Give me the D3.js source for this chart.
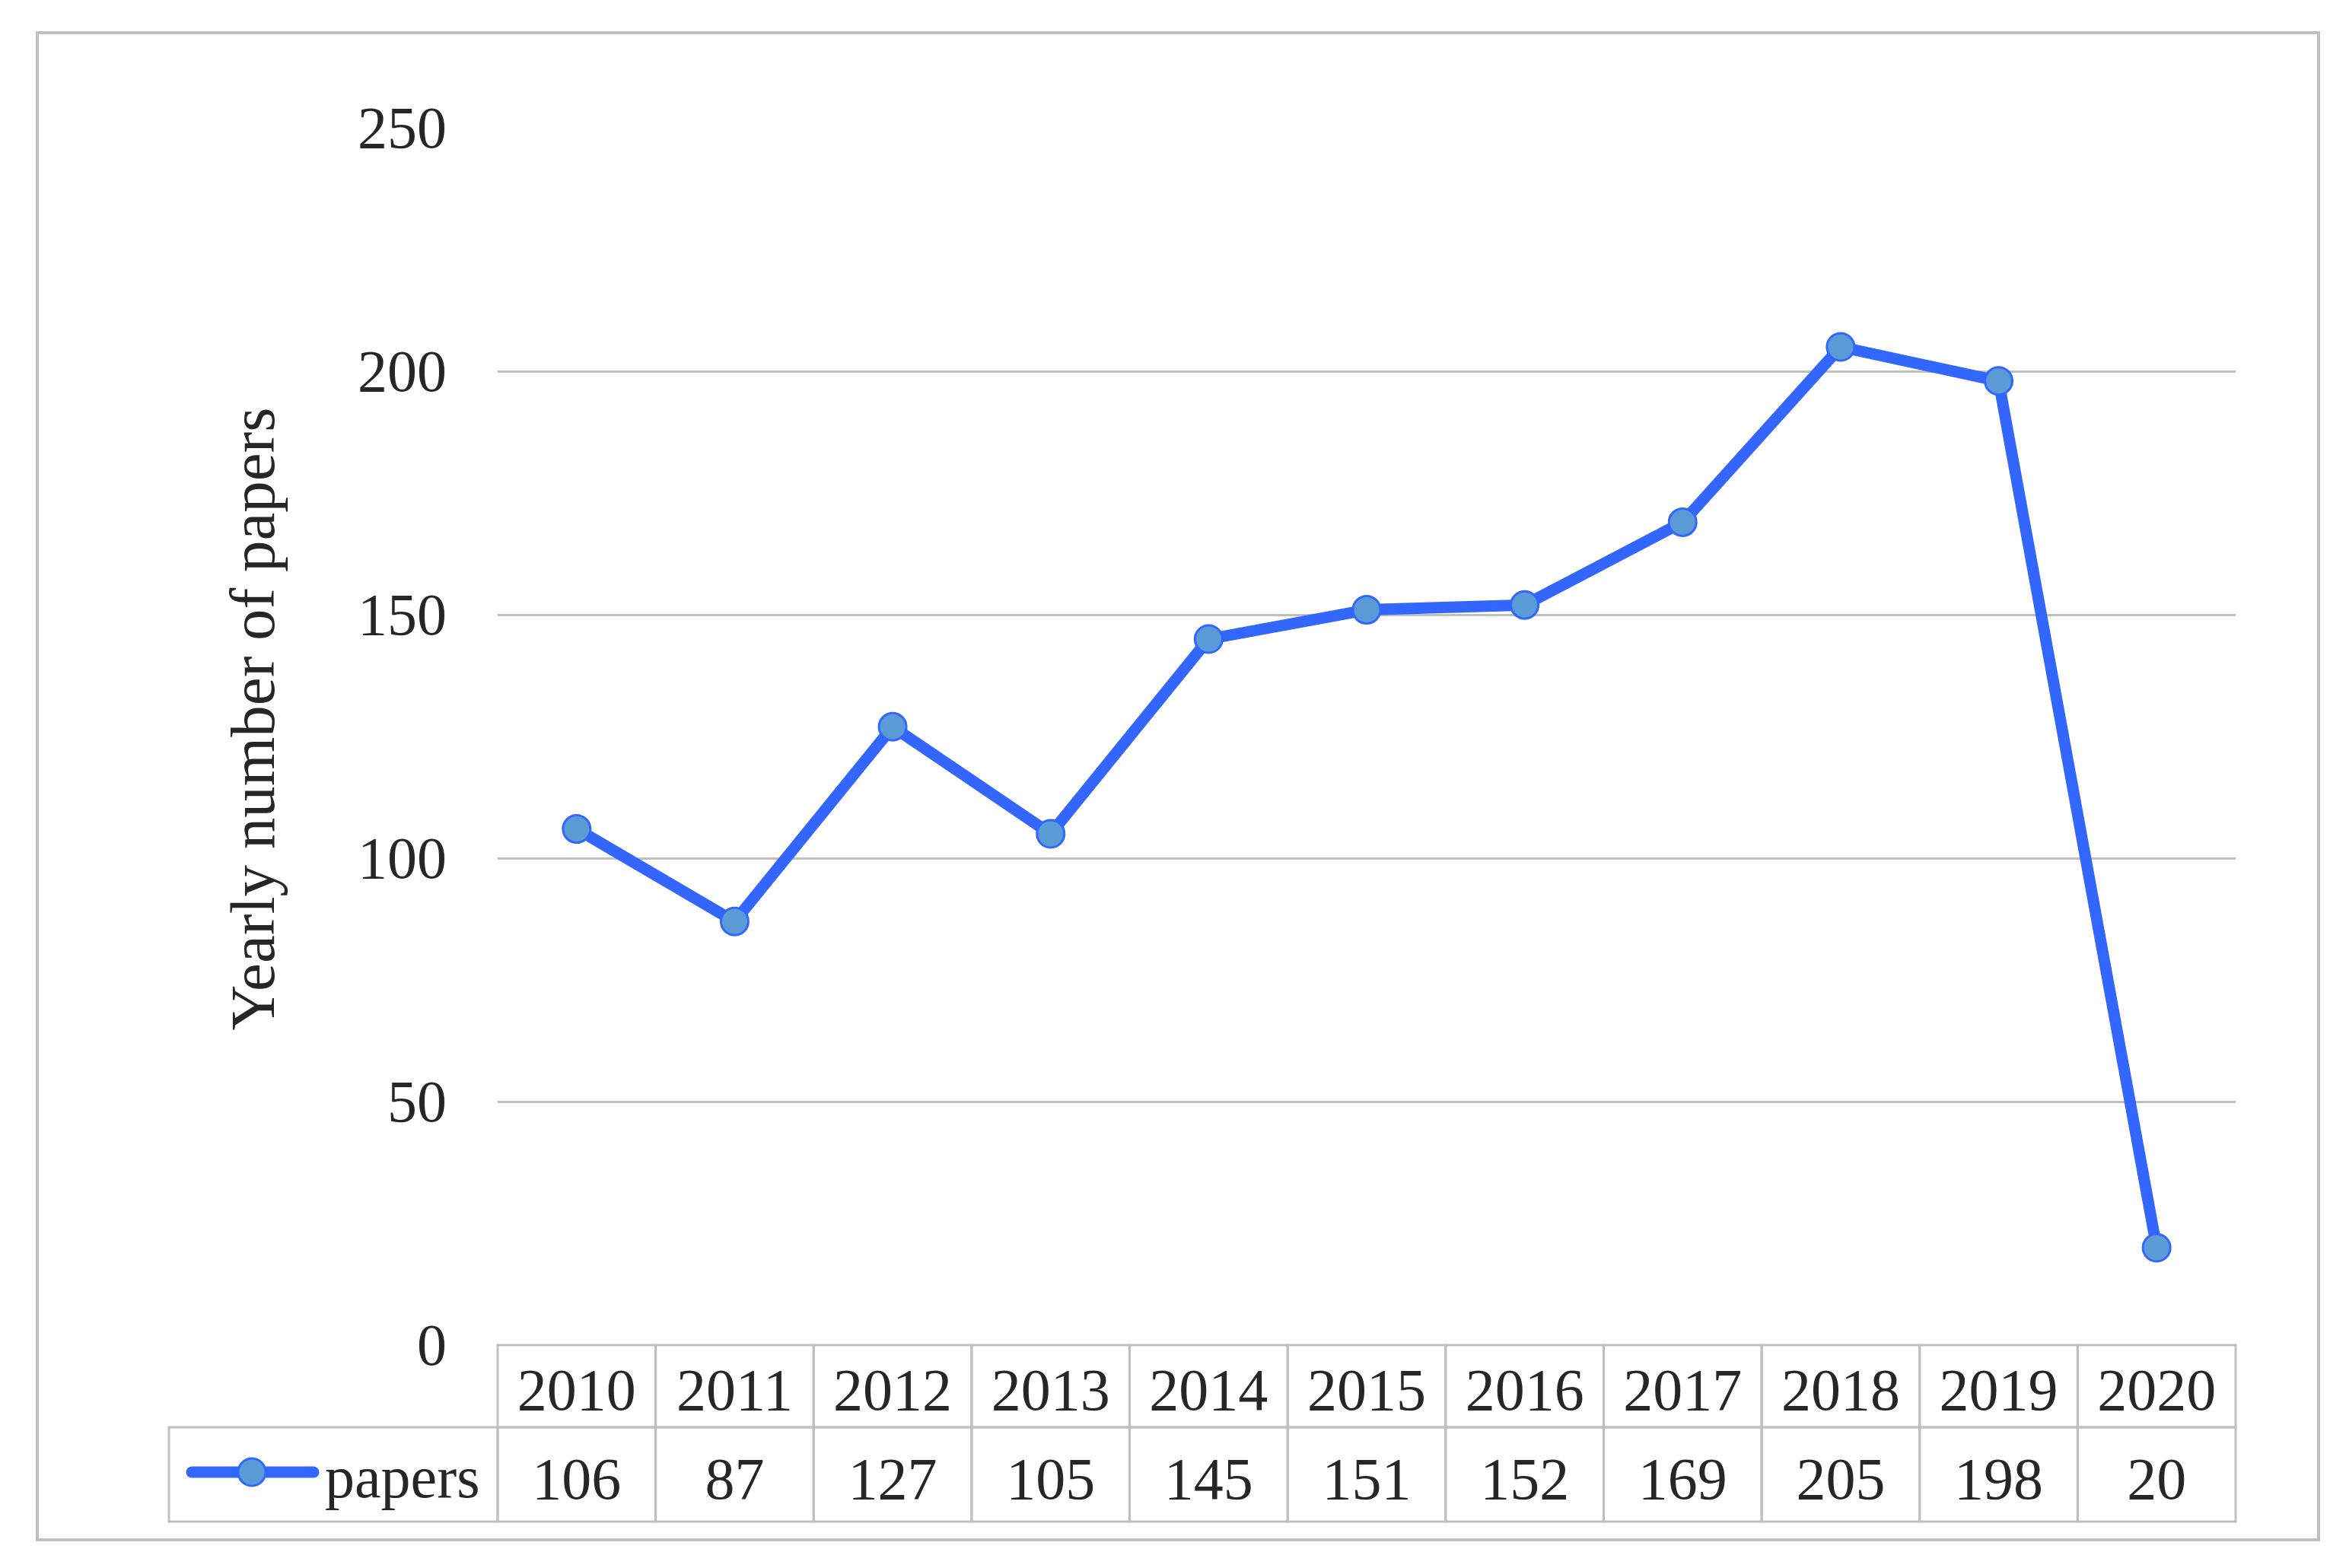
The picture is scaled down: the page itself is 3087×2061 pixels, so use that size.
<!DOCTYPE html>
<html>
<head>
<meta charset="utf-8">
<script src="https://cdn.jsdelivr.net/npm/d3@7"></script>
<style>
  html, body { margin: 0; padding: 0; background: #ffffff; }
  svg { display: block; }
  text { font-family: "Liberation Serif", "Times New Roman", serif; fill: #262626; }
</style>
</head>
<body>
<svg id="chart" width="3087" height="2061"></svg>
<script>
// ---- data ----
const years = ["2010","2011","2012","2013","2014","2015","2016","2017","2018","2019","2020"];
const papers = [106, 87, 127, 105, 145, 151, 152, 169, 205, 198, 20];
const seriesName = "papers";
const yTicks = [0, 50, 100, 150, 200, 250];
const yTitle = "Yearly number of papers";

// ---- layout ----
const W = 3087, H = 2061;
const plotLeft = 654, plotRight = 2938, plotTop = 168, plotBottom = 1768;
const row1Bottom = 1876, row2Bottom = 2000, legendLeft = 222;
const gridColor = "#bfbfbf";
const lineColor = "#3366ff";
const markerFill = "#5b9bd5";
const fontSize = 78;

const svg = d3.select("#chart");

// outer frame
svg.append("rect")
  .attr("x", 49).attr("y", 43)
  .attr("width", 3047 - 49).attr("height", 2024 - 43)
  .attr("fill", "#fff").attr("stroke", gridColor).attr("stroke-width", 4);

const x = d3.scaleBand().domain(years).range([plotLeft, plotRight]).padding(0);
const y = d3.scaleLinear().domain([0, 250]).range([plotBottom, plotTop]);

// y axis with gridlines
const yAxis = d3.axisLeft(y)
  .tickValues(yTicks)
  .tickSize(-(plotRight - plotLeft))
  .tickPadding(67)
  .tickFormat(d3.format("d"));

const gy = svg.append("g")
  .attr("transform", `translate(${plotLeft},0)`)
  .call(yAxis);
gy.select(".domain").remove();
gy.selectAll(".tick line")
  .attr("stroke", gridColor)
  .attr("stroke-width", 3)
  .attr("stroke-opacity", d => (d === 0 || d === 250) ? 0 : 1);
gy.selectAll(".tick text")
  .attr("font-size", fontSize)
  .attr("font-family", "Liberation Serif")
  .attr("fill", "#262626")
  .attr("dy", "0.33em");

// y title
svg.append("text")
  .attr("transform", `translate(360,945) rotate(-90)`)
  .attr("text-anchor", "middle")
  .attr("font-size", 83)
  .text(yTitle);

// data table
const table = svg.append("g");
// header row cells
table.selectAll("rect.hdr").data(years).join("rect")
  .attr("class", "hdr")
  .attr("x", d => x(d)).attr("y", plotBottom)
  .attr("width", x.bandwidth()).attr("height", row1Bottom - plotBottom)
  .attr("fill", "none").attr("stroke", gridColor).attr("stroke-width", 3);
// value row cells
table.selectAll("rect.val").data(years).join("rect")
  .attr("class", "val")
  .attr("x", d => x(d)).attr("y", row1Bottom)
  .attr("width", x.bandwidth()).attr("height", row2Bottom - row1Bottom)
  .attr("fill", "none").attr("stroke", gridColor).attr("stroke-width", 3);
// legend cell
table.append("rect")
  .attr("x", legendLeft).attr("y", row1Bottom)
  .attr("width", plotLeft - legendLeft).attr("height", row2Bottom - row1Bottom)
  .attr("fill", "none").attr("stroke", gridColor).attr("stroke-width", 3);

table.selectAll("text.yr").data(years).join("text")
  .attr("class", "yr")
  .attr("x", d => x(d) + x.bandwidth() / 2).attr("y", 1853)
  .attr("text-anchor", "middle").attr("font-size", fontSize)
  .text(d => d);
table.selectAll("text.v").data(papers).join("text")
  .attr("class", "v")
  .attr("x", (d, i) => x(years[i]) + x.bandwidth() / 2).attr("y", 1970)
  .attr("text-anchor", "middle").attr("font-size", fontSize)
  .text(d => d);

// legend key
table.append("line")
  .attr("x1", 252).attr("x2", 412).attr("y1", 1935).attr("y2", 1935)
  .attr("stroke", lineColor).attr("stroke-width", 15).attr("stroke-linecap", "round");
table.append("circle")
  .attr("cx", 331).attr("cy", 1935).attr("r", 18)
  .attr("fill", markerFill).attr("stroke", lineColor).attr("stroke-width", 3);
table.append("text")
  .attr("x", 427).attr("y", 1968).attr("font-size", fontSize)
  .text(seriesName);

// line series
const line = d3.line()
  .x((d, i) => x(years[i]) + x.bandwidth() / 2)
  .y(d => y(d));
svg.append("path")
  .datum(papers)
  .attr("d", line)
  .attr("fill", "none")
  .attr("stroke", lineColor)
  .attr("stroke-width", 15)
  .attr("stroke-linejoin", "round")
  .attr("stroke-linecap", "round");

svg.selectAll("circle.pt").data(papers).join("circle")
  .attr("class", "pt")
  .attr("cx", (d, i) => x(years[i]) + x.bandwidth() / 2)
  .attr("cy", d => y(d))
  .attr("r", 18)
  .attr("fill", markerFill)
  .attr("stroke", lineColor)
  .attr("stroke-width", 3);
</script>
</body>
</html>
